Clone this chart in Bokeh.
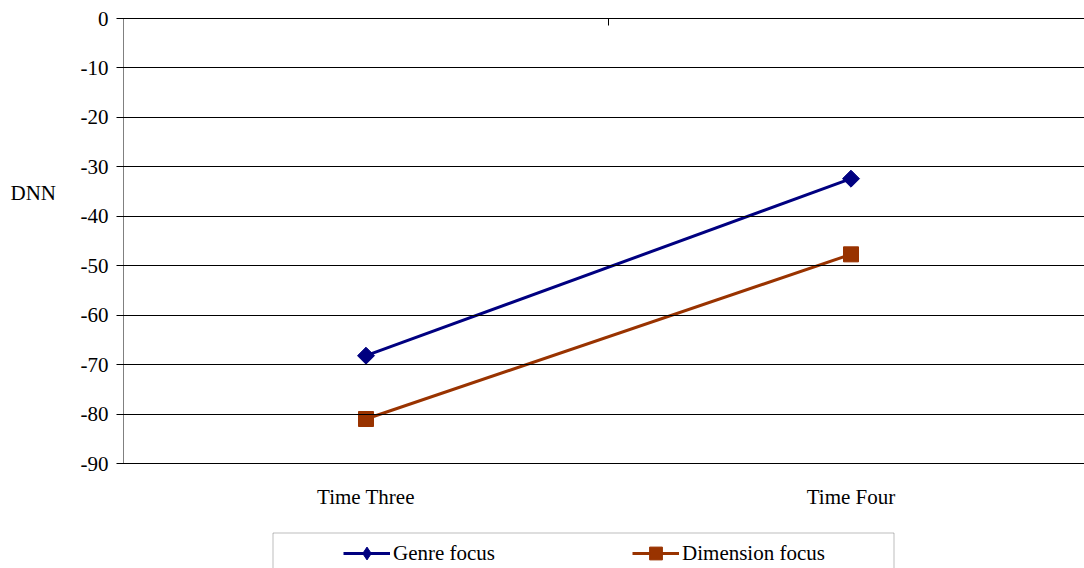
import math
from bokeh.plotting import figure
from bokeh.models import (Range1d, FixedTicker, LinearAxis, Legend, LegendItem,
                          Label, BoxAnnotation)
from bokeh.embed import file_html
from bokeh.resources import INLINE

# ---- data ----
categories = ["Time Three", "Time Four"]
series_names = ["Genre focus", "Dimension focus"]
genre_focus = [-68.2, -32.4]
dimension_focus = [-81.0, -47.7]
y_ticks = [0, -10, -20, -30, -40, -50, -60, -70, -80, -90]
y_label = "DNN"

xs = [i + 0.5 for i in range(len(categories))]
y_min, y_max = min(y_ticks), max(y_ticks)

# ---- layout (pixels) ----
W, H = 1084, 568
PLOT_LEFT = 123            # pixel of the value axis
PLOT_TOP = 18              # pixel of value 0
PLOT_BOTTOM = 463          # pixel of value -90
PX_PER_CAT = 485           # width of one category band
PX_PER_Y = (PLOT_BOTTOM - PLOT_TOP) / (y_max - y_min)


def xd(px):
    return (px - PLOT_LEFT) / PX_PER_CAT


def yd(py):
    return y_max - (py - PLOT_TOP) / PX_PER_Y


FONT = "Liberation Serif"
FS = "21px"
BLUE = "#000080"
RUST = "#993300"

p = figure(width=W, height=H, output_backend="svg", toolbar_location=None,
           x_range=Range1d(xd(0), xd(W)), y_range=Range1d(yd(H), yd(0)),
           x_axis_location=None, y_axis_location=None,
           min_border=0, min_border_left=0, min_border_right=0,
           min_border_top=0, min_border_bottom=0)
p.outline_line_color = None
p.background_fill_color = "white"
p.border_fill_color = "white"
for g in list(p.xgrid) + list(p.ygrid):
    g.visible = False

# value axis; its inward ticks form the horizontal rules
yaxis = LinearAxis(fixed_location=0, bounds=(y_min, y_max),
                   ticker=FixedTicker(ticks=y_ticks),
                   major_label_overrides={t: str(t) for t in y_ticks},
                   axis_line_color="#808080", axis_line_width=1,
                   major_tick_out=7, major_tick_in=W - PLOT_LEFT,
                   major_tick_line_color="black", major_tick_line_width=1,
                   minor_tick_line_color=None,
                   major_label_text_font=FONT, major_label_text_font_size=FS,
                   major_label_text_color="black", major_label_standoff=8)
p.add_layout(yaxis, "left")

# category divider tick on the zero line
top = LinearAxis(fixed_location=y_max, ticker=FixedTicker(ticks=[1]),
                 major_tick_in=7, major_tick_out=0, axis_line_color=None,
                 major_tick_line_color="black", minor_tick_line_color=None,
                 major_label_overrides={1: ""}, major_label_standoff=0,
                 major_label_text_font=FONT, major_label_text_font_size=FS)
p.add_layout(top, "above")

# category labels
bottom = LinearAxis(fixed_location=y_min, ticker=FixedTicker(ticks=xs),
                    major_label_overrides={x: c for x, c in zip(xs, categories)},
                    axis_line_color=None, major_tick_line_color=None,
                    minor_tick_line_color=None, major_tick_out=0, major_tick_in=0,
                    major_label_standoff=21,
                    major_label_text_font=FONT, major_label_text_font_size=FS,
                    major_label_text_color="black")
p.add_layout(bottom, "below")

# series
r1 = p.line(xs, genre_focus, line_color=BLUE, line_width=3)
# diamond used for the legend key (hidden under the rotated square in the plot)
d1 = p.scatter(xs, genre_focus, marker="diamond", size=12,
               fill_color=BLUE, line_color=BLUE)
s1 = p.scatter(xs, genre_focus, marker="square", size=12, angle=math.pi / 4,
               fill_color=BLUE, line_color=BLUE)
r2 = p.line(xs, dimension_focus, line_color=RUST, line_width=3)
s2 = p.scatter(xs, dimension_focus, marker="square", size=15,
               fill_color=RUST, line_color=RUST)

# value-axis title
p.add_layout(Label(x=xd(10), y=yd(192), text=y_label, text_align="left",
                   text_baseline="middle", text_font=FONT, text_font_size=FS,
                   text_color="black"))

# legend frame
p.add_layout(BoxAnnotation(left=xd(272.5), right=xd(893.5), top=yd(532.5),
                           bottom=yd(620), fill_alpha=0, line_color="#222222",
                           line_width=1))

legend = Legend(items=[LegendItem(label=series_names[0], renderers=[r1, d1]),
                       LegendItem(label=series_names[1], renderers=[r2, s2])],
                orientation="horizontal", location=(343, -1),
                glyph_width=47, glyph_height=32, label_standoff=3, spacing=137,
                padding=0, margin=0, border_line_color=None,
                background_fill_alpha=0, label_text_font=FONT,
                label_text_font_size=FS, label_text_color="black")
p.add_layout(legend, "center")

open("out.html", "w").write(file_html(p, INLINE))
